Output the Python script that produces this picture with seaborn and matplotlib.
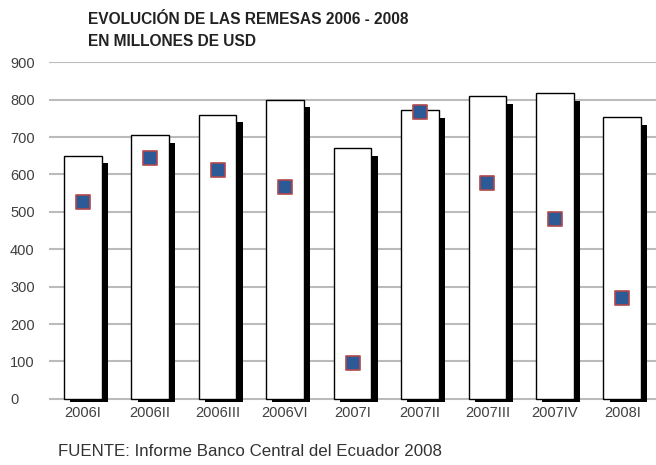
import matplotlib
matplotlib.use("Agg")
import matplotlib.pyplot as plt
import matplotlib.patheffects as pe
import seaborn as sns
import pandas as pd

# --- datos ---
trimestres = ["2006I", "2006II", "2006III", "2006VI", "2007I",
              "2007II", "2007III", "2007IV", "2008I"]
remesas = [650, 705, 760, 800, 670, 772, 810, 818, 753]
marcadores = [527, 645, 611, 566, 95, 767, 576, 481, 270]
yticks = [0, 100, 200, 300, 400, 500, 600, 700, 800, 900]

df = pd.DataFrame({"trimestre": trimestres, "remesas": remesas, "serie2": marcadores})

sns.set_style("white")
plt.rcParams["font.family"] = ["Liberation Sans", "DejaVu Sans"]

fig = plt.figure(figsize=(6.56, 4.65), dpi=100)
ax = fig.add_axes([0.0747, 0.136, 0.9253, 0.730])

# --- barras blancas con sombra negra ---
sns.barplot(data=df, x="trimestre", y="remesas", color="white", edgecolor="black",
            linewidth=1.0, width=0.56, saturation=1, ax=ax)
for p in ax.patches:
    p.set_facecolor("white")
    p.set_path_effects([pe.SimplePatchShadow(offset=(4.5, -5.5), shadow_rgbFace="black", alpha=1),
                        pe.Normal()])
    p.set_zorder(2)

# --- marcadores cuadrados ---
sns.stripplot(data=df, x="trimestre", y="serie2", jitter=False, marker="s", size=10,
              color="#2C5A97", edgecolor="#B0484C", linewidth=1.2, ax=ax, zorder=4)

ax.set_ylim(-8, 900)
ax.set_yticks(yticks)
ax.set_xlabel("")
ax.set_ylabel("")
ax.grid(axis="y", color="#BBBBBB", linewidth=1.5)
ax.set_axisbelow(True)
for s in ax.spines.values():
    s.set_visible(False)

ax.tick_params(axis="y", length=0, pad=28, labelsize=10.5, labelcolor="#404040")
for lbl in ax.get_yticklabels():
    lbl.set_horizontalalignment("left")
ax.tick_params(axis="x", length=0, pad=3, labelsize=10.5, labelcolor="#404040")

# --- titulo y fuente ---
fig.text(0.134, 0.957, "EVOLUCIÓN DE LAS REMESAS 2006 - 2008", fontsize=11.2,
         fontweight="bold", color="#222222", va="center")
fig.text(0.134, 0.910, "EN MILLONES DE USD", fontsize=11.2,
         fontweight="bold", color="#222222", va="center")
fig.text(0.088, 0.012, "FUENTE: Informe Banco Central del Ecuador 2008", fontsize=12.2,
         color="#333333", va="bottom")

fig.savefig("out.png", dpi=100)
plt.close(fig)
